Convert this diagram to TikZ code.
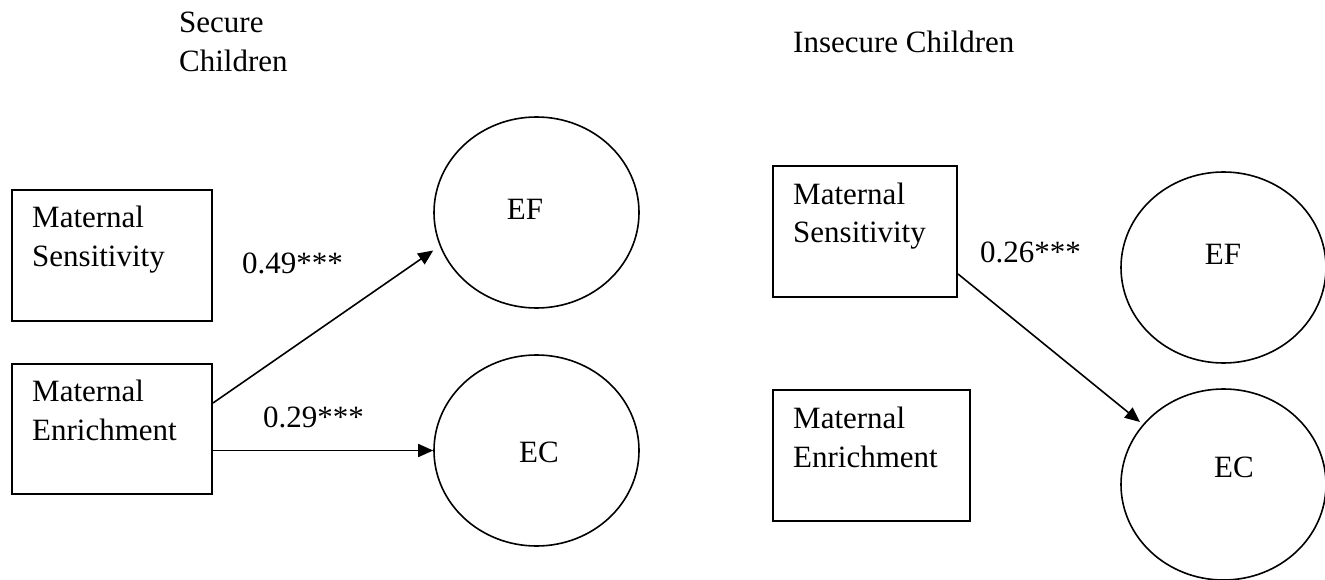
\documentclass[tikz,border=0pt]{standalone}
\usepackage{fontspec}
\setmainfont{Liberation Serif}
\usetikzlibrary{arrows.meta,shapes.geometric}
\begin{document}
\begin{tikzpicture}[x=1pt,y=-1pt,
  % multi-line texts are placed by the baseline of their last line
  txt/.style={font=\fontsize{31}{39}\selectfont, inner sep=0pt, align=left, anchor=base west},
  ctr/.style={font=\fontsize{31}{39}\selectfont, inner sep=0pt, anchor=base},
  obsbox/.style={draw, line width=2pt, rectangle, inner sep=0pt, anchor=north west},
  latent/.style={draw, line width=1.6pt, ellipse, inner sep=0pt,
                 minimum width=205pt, minimum height=191pt},
  effect/.style={line width=1.6pt, -{Triangle[length=15pt,width=13pt]}}
]
\useasboundingbox (0,0) rectangle (1325,580);

% ---- secure group ----
\node[txt] (titleA) at (179,72) {Secure\\Children};
\node[obsbox, minimum width=200pt, minimum height=131pt] (sensA) at (11,189) {};
\node[obsbox, minimum width=200pt, minimum height=130pt] (encA) at (11,363) {};
\node[txt] (sensAtxt) at (32,266) {Maternal\\Sensitivity};
\node[txt] (encAtxt) at (32,440) {Maternal\\Enrichment};
\node[latent] (efA) at (536.5,212.5) {};
\node[latent] (ecA) at (536.5,450.5) {};
\node[ctr] (efAtxt) at (525,220) {EF};
\node[ctr] (ecAtxt) at (539,462) {EC};

\draw[effect] ([yshift=26pt]encA.east) -- ([yshift=-38pt]efA.west);
\draw[effect] (encA.east |- ecA.west) -- (ecA.west);
\node[txt] (bA1) at (242,273) {0.49***};
\node[txt] (bA2) at (263,427) {0.29***};

% ---- insecure group ----
\node[txt] (titleB) at (793,53) {Insecure Children};
\node[obsbox, minimum width=184pt, minimum height=131pt] (sensB) at (772,165) {};
\node[obsbox, minimum width=197pt, minimum height=131pt] (encB) at (772,389) {};
\node[txt] (sensBtxt) at (793,243) {Maternal\\Sensitivity};
\node[txt] (encBtxt) at (793,467) {Maternal\\Enrichment};
\node[latent] (efB) at (1223.5,267.5) {};
\node[latent] (ecB) at (1223.5,484.5) {};
\node[ctr] (efBtxt) at (1223,264) {EF};
\node[ctr] (ecBtxt) at (1234,477) {EC};

\draw[effect] ([yshift=-42.5pt]sensB.east) -- ([xshift=-83.5pt,yshift=62.5pt]ecB.center);
\node[txt] (bB1) at (980,262) {0.26***};
\end{tikzpicture}
\end{document}
